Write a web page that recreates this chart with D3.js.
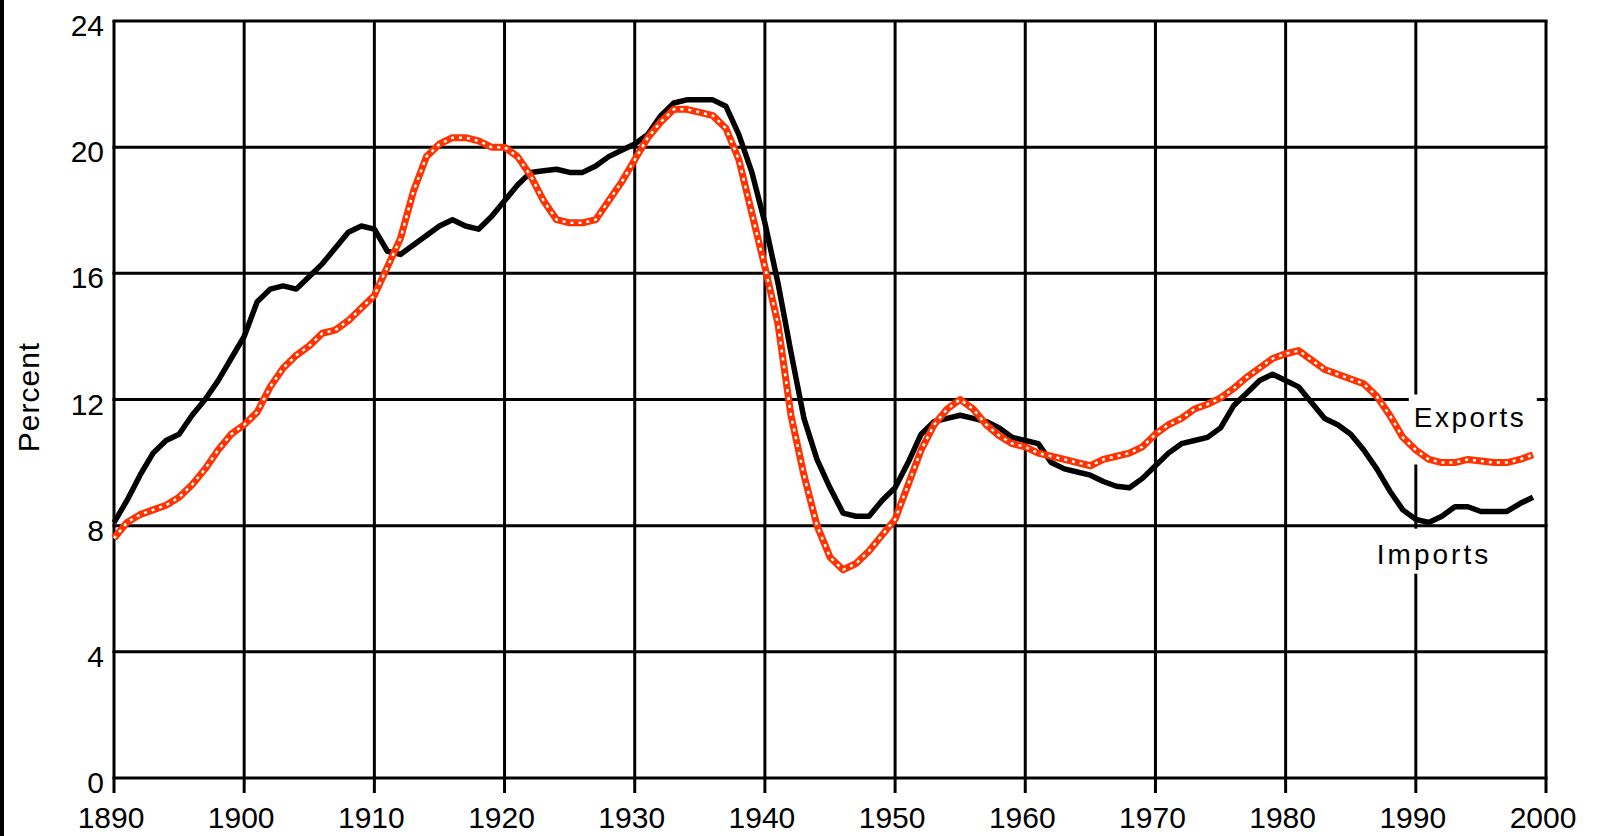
<!DOCTYPE html>
<html>
<head>
<meta charset="utf-8">
<script src="https://cdn.jsdelivr.net/npm/d3@7"></script>
<style>
  html, body { margin: 0; padding: 0; background: #fff; }
  svg { display: block; }
  text { font-family: "Liberation Sans", "DejaVu Sans", sans-serif; fill: #000; }
</style>
</head>
<body>
<div id="chart"></div>
<script>
// values, one per year 1890..1999
const startYear = 1890;
const imports = [
  8.1, 8.8, 9.6, 10.3, 10.7, 10.9, 11.5, 12.0, 12.6, 13.3,
  14.0, 15.1, 15.5, 15.6, 15.5, 15.9, 16.3, 16.8, 17.3, 17.5,
  17.4, 16.7, 16.6, 16.9, 17.2, 17.5, 17.7, 17.5, 17.4, 17.8,
  18.3, 18.8, 19.2, 19.25, 19.3, 19.2, 19.2, 19.4, 19.7, 19.9,
  20.1, 20.4, 21.0, 21.4, 21.5, 21.5, 21.5, 21.3, 20.4, 19.2,
  17.6, 15.7, 13.5, 11.4, 10.1, 9.2, 8.4, 8.3, 8.3, 8.8,
  9.2, 10.0, 10.9, 11.3, 11.4, 11.5, 11.4, 11.3, 11.1, 10.8,
  10.7, 10.6, 10.0, 9.8, 9.7, 9.6, 9.4, 9.25, 9.2, 9.5,
  9.9, 10.3, 10.6, 10.7, 10.8, 11.1, 11.8, 12.2, 12.6, 12.8,
  12.6, 12.4, 11.9, 11.4, 11.2, 10.9, 10.4, 9.8, 9.1, 8.5,
  8.2, 8.1, 8.3, 8.6, 8.6, 8.45, 8.45, 8.45, 8.7, 8.9
];
const exports = [
  7.6, 8.1, 8.35, 8.5, 8.65, 8.9, 9.3, 9.8, 10.4, 10.9,
  11.2, 11.6, 12.4, 13.0, 13.4, 13.7, 14.1, 14.2, 14.5, 14.9,
  15.3, 16.2, 17.1, 18.6, 19.7, 20.1, 20.3, 20.3, 20.2, 20.0,
  20.0, 19.7, 19.1, 18.3, 17.7, 17.6, 17.6, 17.7, 18.3, 18.9,
  19.6, 20.3, 20.8, 21.2, 21.2, 21.1, 21.0, 20.6, 19.6, 17.9,
  16.2, 14.4, 11.5, 9.6, 8.0, 7.0, 6.6, 6.8, 7.2, 7.7,
  8.2, 9.3, 10.4, 11.2, 11.7, 12.0, 11.7, 11.2, 10.85, 10.6,
  10.5, 10.3, 10.2, 10.1, 10.0, 9.9, 10.1, 10.2, 10.3, 10.5,
  10.9, 11.2, 11.4, 11.7, 11.85, 12.05, 12.35, 12.7, 13.0, 13.3,
  13.45, 13.55, 13.25, 12.95, 12.8, 12.65, 12.5, 12.1, 11.5, 10.8,
  10.4, 10.1, 10.0, 10.0, 10.1, 10.05, 10.0, 10.0, 10.1, 10.25
];
const yearTicks = [1890, 1900, 1910, 1920, 1930, 1940, 1950, 1960, 1970, 1980, 1990, 2000];
const valueTicks = [0, 4, 8, 12, 16, 20, 24];

const width = 1600;
const height = 836;
const red = "#ff3300";

const svg = d3.select("#chart").append("svg")
  .attr("width", width)
  .attr("height", height);

const x = d3.scaleLinear().domain([1890, 2000]).range([114, 1546]);
const y = d3.scaleLinear().domain([0, 24]).range([778, 21]);

// black bar at the left edge
svg.append("rect").attr("x", 0).attr("y", 0).attr("width", 4).attr("height", height).attr("fill", "#000");

// grid
svg.append("g").selectAll("line").data(valueTicks).join("line")
  .attr("x1", x(1890)).attr("x2", x(2000))
  .attr("y1", d => y(d)).attr("y2", d => y(d))
  .attr("stroke", "#000").attr("stroke-width", 3).attr("stroke-linecap", "square");

svg.append("g").selectAll("line").data(yearTicks).join("line")
  .attr("x1", d => x(d)).attr("x2", d => x(d))
  .attr("y1", y(24)).attr("y2", y(0) + 15)
  .attr("stroke", "#000").attr("stroke-width", 3);

// tick labels
svg.append("g").selectAll("text").data(valueTicks).join("text")
  .attr("x", 104).attr("y", d => y(d) + 15)
  .attr("text-anchor", "end")
  .attr("font-size", 30)
  .text(d => d);

svg.append("g").selectAll("text").data(yearTicks).join("text")
  .attr("x", d => x(d) - 3).attr("y", 828)
  .attr("text-anchor", "middle")
  .attr("font-size", 30)
  .text(d => d);

svg.append("text")
  .attr("transform", "translate(39,397) rotate(-90)")
  .attr("text-anchor", "middle")
  .attr("font-size", 30)
  .attr("letter-spacing", 1)
  .text("Percent");

// white boxes behind the series labels
svg.append("rect").attr("x", x(1990) - 7).attr("y", y(12) - 5).attr("width", 128).attr("height", 70).attr("fill", "#fff");
svg.append("rect").attr("x", x(1990) - 40).attr("y", y(8) + 3).attr("width", 125).attr("height", 45).attr("fill", "#fff");

const line = d3.line()
  .x((d, i) => x(startYear + i))
  .y(d => y(d));

// imports
svg.append("path").datum(imports)
  .attr("d", line)
  .attr("fill", "none")
  .attr("stroke", "#000")
  .attr("stroke-width", 5.5)
  .attr("stroke-linejoin", "round");

// exports: thick red with white dotted centre
svg.append("path").datum(exports)
  .attr("d", line)
  .attr("fill", "none")
  .attr("stroke", red)
  .attr("stroke-width", 7)
  .attr("stroke-linejoin", "round");

svg.append("path").datum(exports)
  .attr("d", line)
  .attr("fill", "none")
  .attr("stroke", "#fff")
  .attr("stroke-width", 2.5)
  .attr("stroke-dasharray", "3 5");

// series labels
svg.append("text")
  .attr("x", x(1990) - 2).attr("y", y(12) + 27)
  .attr("font-size", 28)
  .attr("letter-spacing", 2.5)
  .text("Exports");

svg.append("text")
  .attr("x", x(1990) - 39).attr("y", y(8) + 38)
  .attr("font-size", 28)
  .attr("letter-spacing", 3)
  .text("Imports");
</script>
</body>
</html>
